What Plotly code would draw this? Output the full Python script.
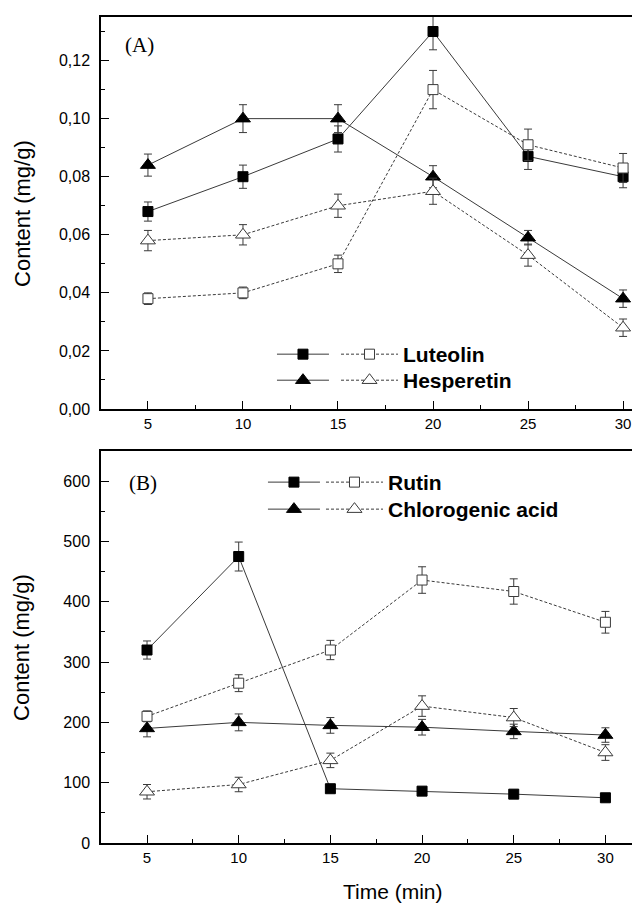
import plotly.graph_objects as go

time = [5, 10, 15, 20, 25, 30]

# Panel A (mg/g)
lut_fill = [0.068, 0.080, 0.093, 0.130, 0.087, 0.080]
lut_fill_err = [0.0033, 0.0040, 0.0045, 0.0063, 0.0045, 0.0038]
lut_open = [0.038, 0.040, 0.050, 0.110, 0.091, 0.083]
lut_open_err = [0.0020, 0.0020, 0.0030, 0.0066, 0.0054, 0.0050]
hes_fill = [0.084, 0.100, 0.100, 0.080, 0.059, 0.038]
hes_fill_err = [0.0038, 0.0048, 0.0048, 0.0038, 0.0025, 0.0030]
hes_open = [0.058, 0.060, 0.070, 0.075, 0.053, 0.028]
hes_open_err = [0.0035, 0.0035, 0.0040, 0.0045, 0.0038, 0.0030]

# Panel B (mg/g)
rut_fill = [320, 475, 90, 86, 81, 75]
rut_fill_err = [15, 24, 4, 4, 3, 3]
rut_open = [210, 265, 320, 436, 417, 366]
rut_open_err = [9, 14, 16, 22, 21, 18]
chl_fill = [190, 200, 195, 192, 185, 179]
chl_fill_err = [14, 14, 13, 13, 12, 12]
chl_open = [85, 97, 137, 227, 208, 150]
chl_open_err = [12, 12, 12, 17, 15, 13]

x_ticks = [5, 10, 15, 20, 25, 30]

LINE = "#3a3a3a"
DASH = "3px,2px"


def trace(x, y, err, filled, symbol, name, xa, ya, legend):
    size = 10 if symbol == "square" else 13
    return go.Scatter(
        x=x, y=y, mode="lines+markers", name=name, xaxis=xa, yaxis=ya, legend=legend,
        showlegend=True,
        line=dict(color=LINE, width=1, dash="solid" if filled else DASH),
        marker=dict(symbol=symbol, size=size,
                    color="black" if filled else "white",
                    line=dict(color="black" if filled else LINE, width=1)),
        error_y=dict(type="data", array=err, visible=True, color=LINE, thickness=1, width=4),
    )


fig = go.Figure()
fig.add_trace(trace(time, lut_fill, lut_fill_err, True, "square", " ", "x", "y", "legend"))
fig.add_trace(trace(time, hes_fill, hes_fill_err, True, "triangle-up", " ", "x", "y", "legend2"))
fig.add_trace(trace(time, lut_open, lut_open_err, False, "square", "Luteolin", "x", "y", "legend3"))
fig.add_trace(trace(time, hes_open, hes_open_err, False, "triangle-up", "Hesperetin", "x", "y", "legend4"))
fig.add_trace(trace(time, rut_fill, rut_fill_err, True, "square", " ", "x2", "y2", "legend5"))
fig.add_trace(trace(time, chl_fill, chl_fill_err, True, "triangle-up", " ", "x2", "y2", "legend6"))
fig.add_trace(trace(time, rut_open, rut_open_err, False, "square", "Rutin", "x2", "y2", "legend7"))
fig.add_trace(trace(time, chl_open, chl_open_err, False, "triangle-up", "Chlorogenic acid", "x2", "y2", "legend8"))

xtickfont = dict(family="Liberation Sans, Arial", size=15, color="black")
ytickfont = dict(family="Liberation Sans, Arial", size=16, color="black")
common_x = dict(tickvals=x_ticks, ticks="inside", ticklen=8, tickwidth=1, tickcolor="black",
                minor=dict(dtick=2.5, tick0=2.5, ticks="inside", ticklen=4, tickcolor="black"),
                showline=True, linecolor="black", linewidth=1.5, mirror=True,
                showgrid=False, zeroline=False, tickfont=xtickfont)
common_y = dict(ticks="inside", ticklen=8, tickwidth=1, tickcolor="black",
                showline=True, linecolor="black", linewidth=1.5, mirror=False,
                showgrid=False, zeroline=False, tickfont=ytickfont, ticklabelstandoff=6)

fig.update_layout(
    width=632, height=903,
    margin=dict(l=101, r=0, t=17, b=60),
    plot_bgcolor="white", paper_bgcolor="white",
    separators=",.",
    showlegend=True,
    font=dict(family="Liberation Sans, Arial", color="black"),
    xaxis=dict(domain=[0, 1], anchor="y", range=[2.53, 30.47], **common_x),
    yaxis=dict(domain=[0.5254, 1], anchor="x", range=[0, 0.135], dtick=0.02, tick0=0,
               tickformat=".2f", minor=dict(dtick=0.01, ticks="inside", ticklen=4, tickcolor="black"),
               **common_y),
    xaxis2=dict(domain=[0, 1], anchor="y2", range=[2.49, 31.45], **common_x),
    yaxis2=dict(domain=[0, 0.4746], anchor="x2", range=[0, 650], dtick=100, tick0=0,
                minor=dict(dtick=50, ticks="inside", ticklen=4, tickcolor="black"),
                **common_y),
)

legfont = dict(family="Liberation Sans, Arial", size=21, color="black", weight="bold")
leg_fill = dict(bgcolor="rgba(0,0,0,0)", borderwidth=0, font=legfont, itemwidth=52,
                xanchor="left", yanchor="top", tracegroupgap=0, itemclick=False)
leg_open = dict(bgcolor="rgba(0,0,0,0)", borderwidth=0, font=legfont, itemwidth=57,
                xanchor="left", yanchor="top", tracegroupgap=0, itemclick=False)
fig.update_layout(
    legend=dict(x=0.322, y=0.6162, **leg_fill),
    legend2=dict(x=0.322, y=0.5847, **leg_fill),
    legend3=dict(x=0.4426, y=0.6162, **leg_open),
    legend4=dict(x=0.4426, y=0.5847, **leg_open),
    legend5=dict(x=0.305, y=0.4613, **leg_fill),
    legend6=dict(x=0.305, y=0.4286, **leg_fill),
    legend7=dict(x=0.4143, y=0.4613, **leg_open),
    legend8=dict(x=0.4143, y=0.4286, **leg_open),
)

fig.add_annotation(text="(A)", xref="paper", yref="paper", x=0.0414, y=0.966,
                   xanchor="left", yanchor="middle", showarrow=False,
                   font=dict(family="Liberation Serif, Times New Roman", size=21, color="black"))
fig.add_annotation(text="(B)", xref="paper", yref="paper", x=0.049, y=0.4358,
                   xanchor="left", yanchor="middle", showarrow=False,
                   font=dict(family="Liberation Serif, Times New Roman", size=21, color="black"))

title_font = dict(family="Liberation Sans, Arial", size=22, color="black")
for yc in [(1 + 0.5254) / 2, 0.4746 / 2]:
    fig.add_annotation(text="Content (mg/g)", xref="paper", yref="paper", x=-0.1488, y=yc,
                       xanchor="center", yanchor="middle", textangle=-90, showarrow=False,
                       font=title_font)
fig.add_annotation(text="Time (min)", xref="paper", yref="paper", x=0.55, y=-0.0593,
                   xanchor="center", yanchor="middle", showarrow=False,
                   font=dict(family="Liberation Sans, Arial", size=21, color="black"))

fig.write_html(
    "out.html",
    config={"displayModeBar": False},
    post_script="document.body.style.margin='0';document.body.style.overflow='hidden';",
)
